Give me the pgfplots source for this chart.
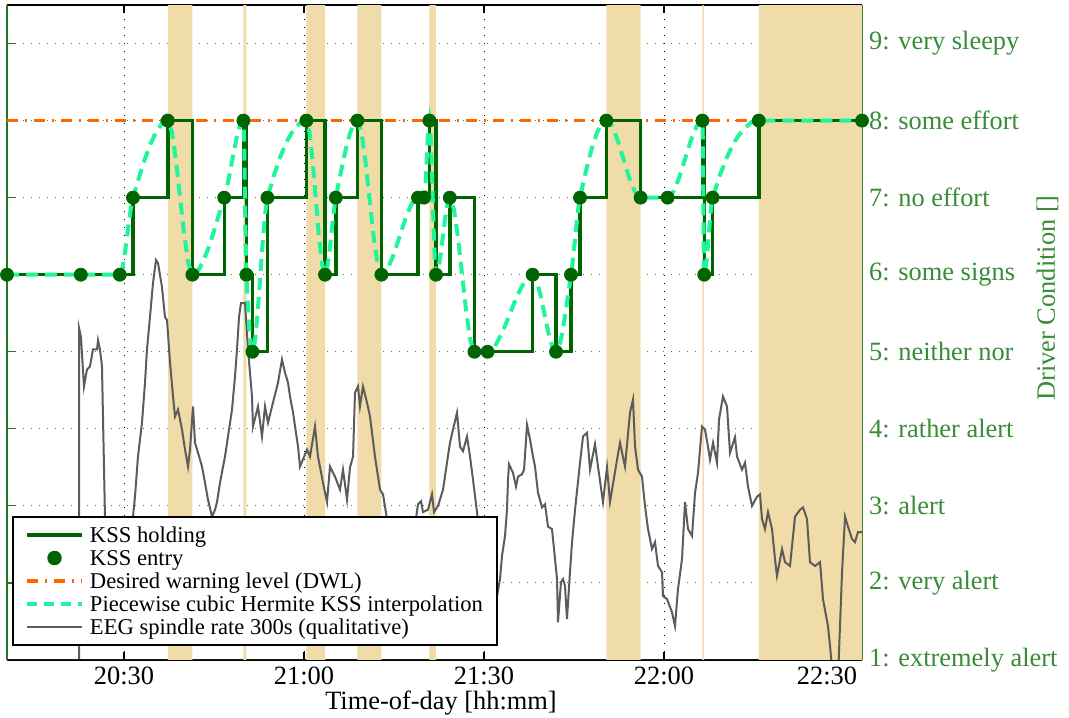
\documentclass[border=0pt]{standalone}
\usepackage{fontspec}
\setmainfont{Liberation Serif}
\usepackage{pgfplots}
\usepackage{pgfplotstable}
\pgfplotsset{compat=1.18}

\definecolor{kss}{RGB}{0,100,0}
\definecolor{herm}{RGB}{32,245,155}
\definecolor{dwl}{RGB}{255,102,0}
\definecolor{eeg}{RGB}{92,92,92}
\definecolor{shade}{RGB}{240,220,168}
\definecolor{axgreen}{RGB}{30,120,30}
\definecolor{lblgreen}{RGB}{56,140,56}
\definecolor{gridgreen}{RGB}{60,140,60}

% time in minutes after 20:00, KSS level
\pgfplotstableread{
t   k
10.5  6
22.8  6
29.3  6
31.5  7
37.3  8
41.4  6
46.7  7
49.9  8
50.4  6
51.4  5
53.9  7
60.4  8
63.5  6
65.3  7
68.9  8
72.9  6
79.0  7
80.0  7
80.9  8
82.0  6
84.3  7
88.4  5
90.6  5
98.1  6
102.0 5
104.5 6
106.0 7
110.4 8
116.1 7
120.6 7
126.4 8
126.7 6
128.1 7
135.8 8
153.0 8
}\kssdata

% periods at or above the warning level
\pgfplotstableread{
t   s
10.5  0
37.3  9.5
41.4  0
49.9  9.5
50.4  0
60.4  9.5
63.5  0
68.9  9.5
72.9  0
80.9  9.5
82.0  0
110.4 9.5
116.1 0
126.4 9.5
126.7 0
135.8 9.5
153.0 9.5
}\warnspans

% piecewise cubic Hermite curve through the KSS entries
\pgfplotstableread{
t   h
10.5 6
22.8 6
29.3 6
29.667 6.060
30.033 6.216
30.4 6.426
30.767 6.653
31.133 6.858
31.5 7
32.467 7.254
33.433 7.489
34.4 7.694
35.367 7.856
36.333 7.962
37.3 8
37.983 7.852
38.667 7.481
39.35 7.0
40.033 6.519
40.717 6.148
41.4 6
42.283 6.045
43.167 6.165
44.05 6.341
44.933 6.552
45.817 6.779
46.7 7
47.233 7.163
47.767 7.373
48.3 7.596
48.833 7.798
49.367 7.944
49.9 8
49.983 7.872
50.067 7.545
50.15 7.107
50.233 6.646
50.317 6.247
50.4 6
50.567 5.728
50.733 5.487
50.9 5.286
51.067 5.132
51.233 5.035
51.4 5
51.817 5.131
52.233 5.466
52.65 5.910
53.067 6.375
53.483 6.769
53.9 7
54.983 7.290
56.067 7.536
57.15 7.733
58.233 7.879
59.317 7.969
60.4 8
60.917 7.852
61.433 7.481
61.95 7.0
62.467 6.519
62.983 6.148
63.5 6
63.8 6.058
64.1 6.208
64.4 6.414
64.7 6.638
65.0 6.846
65.3 7
65.9 7.234
66.5 7.464
67.1 7.673
67.7 7.843
68.3 7.958
68.9 8
69.567 7.852
70.233 7.481
70.9 7.0
71.567 6.519
72.233 6.148
72.9 6
73.917 6.074
74.933 6.259
75.95 6.5
76.967 6.741
77.983 6.926
79.0 7
80.0 7
80.15 7.074
80.3 7.259
80.45 7.5
80.6 7.741
80.75 7.926
80.9 8
81.083 7.852
81.267 7.481
81.45 7.0
81.633 6.519
81.817 6.148
82.0 6
82.383 6.074
82.767 6.259
83.15 6.5
83.533 6.741
83.917 6.926
84.3 7
84.983 6.852
85.667 6.481
86.35 6.0
87.033 5.519
87.717 5.148
88.4 5
90.6 5
91.85 5.074
93.1 5.259
94.35 5.5
95.6 5.741
96.85 5.926
98.1 6
98.75 5.926
99.4 5.741
100.05 5.5
100.7 5.259
101.35 5.074
102.0 5
102.417 5.045
102.833 5.165
103.25 5.340
103.667 5.552
104.083 5.778
104.5 6
104.75 6.150
105.0 6.332
105.25 6.527
105.5 6.716
105.75 6.880
106.0 7
106.733 7.261
107.467 7.499
108.2 7.702
108.933 7.861
109.667 7.963
110.4 8
111.35 7.926
112.3 7.741
113.25 7.5
114.2 7.259
115.15 7.074
116.1 7
120.6 7
121.567 7.074
122.533 7.259
123.5 7.5
124.467 7.741
125.433 7.926
126.4 8
126.45 7.852
126.5 7.481
126.55 7.0
126.6 6.519
126.65 6.148
126.7 6
126.933 6.066
127.167 6.232
127.4 6.454
127.633 6.686
127.867 6.883
128.1 7
129.383 7.308
130.667 7.558
131.95 7.752
133.233 7.890
134.517 7.973
135.8 8
153.0 8
}\hermdata

% EEG spindle rate (300 s window), drawn on the KSS scale
\pgfplotstableread{
t   e
22.5 1.01
22.5 5.31
22.83 5.19
23.33 4.55
23.83 4.77
24.33 4.81
24.83 5.03
25.5 5.03
25.67 5.15
26.0 5.03
26.33 4.81
26.83 2.86
28.5 1.55
30.17 1.66
31.5 2.86
31.83 3.12
32.33 3.64
33.0 4.08
33.5 4.60
33.83 5.03
34.33 5.45
34.83 5.89
35.33 6.19
35.67 6.15
36.33 5.84
36.83 5.45
37.17 5.41
37.67 4.86
38.17 4.42
38.5 4.16
39.0 4.25
39.67 3.99
40.17 3.73
40.67 3.51
41.0 3.73
41.5 4.29
41.83 3.82
42.33 3.69
43.0 3.51
43.5 3.30
44.0 3.08
44.67 2.86
45.17 2.95
45.5 3.05
46.0 3.30
46.83 3.64
47.33 3.90
48.0 4.25
48.5 4.68
48.83 5.03
49.17 5.45
49.5 5.63
50.17 5.63
50.67 5.03
51.33 4.42
51.5 4.03
52.33 4.29
53.0 3.90
53.5 4.29
54.0 4.08
54.83 4.34
55.67 4.60
56.33 4.90
56.83 4.73
57.33 4.60
57.67 4.42
58.17 4.21
59.0 3.77
59.33 3.51
60.5 3.73
61.0 3.64
61.83 4.03
62.33 3.64
63.17 3.30
63.83 3.05
64.33 3.51
65.17 3.38
66.0 3.21
66.5 3.47
67.17 3.08
67.67 3.50
68.17 3.64
68.5 4.47
69.0 4.55
69.33 4.29
69.83 4.55
70.5 4.34
71.0 4.16
71.83 3.64
72.67 3.21
73.17 3.15
75.17 2.18
77.67 2.31
79.0 3.02
79.5 3.06
79.83 2.92
80.67 2.95
81.33 3.15
81.67 2.92
82.33 3.00
83.17 3.21
83.83 3.56
84.33 3.82
84.83 3.99
85.5 4.21
86.0 3.77
86.5 3.71
87.17 3.90
87.67 3.64
88.17 3.34
88.83 2.92
90.17 2.05
92.17 1.83
92.67 2.05
93.0 2.35
93.5 2.61
93.83 2.95
94.0 3.34
94.17 3.54
94.83 3.43
95.33 3.25
95.67 3.38
96.33 3.41
96.67 3.47
97.17 4.05
97.67 3.86
98.17 3.64
98.5 3.51
99.0 3.17
99.67 2.98
100.17 3.02
100.67 2.73
101.33 2.70
101.67 2.44
102.17 2.05
102.33 1.49
102.83 2.01
103.17 2.05
103.5 1.96
103.83 1.53
104.33 2.14
104.67 2.53
105.17 2.95
106.0 3.56
106.5 3.90
107.17 3.95
107.67 3.47
108.5 3.80
109.0 3.51
109.83 3.05
110.5 3.50
111.0 3.05
112.17 3.60
112.67 3.82
113.5 3.51
114.33 4.21
114.83 4.38
115.17 3.77
115.67 3.47
116.33 3.38
116.83 3.00
117.33 2.70
118.0 2.44
118.5 2.53
119.0 2.22
119.67 2.14
119.83 1.83
120.5 1.79
121.33 1.62
121.83 1.44
122.33 1.92
123.0 2.31
123.5 3.05
124.0 2.70
124.67 2.61
125.17 3.17
125.67 3.43
126.33 4.03
126.83 3.99
127.33 3.77
127.67 3.60
128.17 3.82
128.83 3.56
129.17 4.12
129.83 4.42
130.5 4.29
131.0 3.69
131.83 3.89
132.17 3.64
133.0 3.47
133.5 3.56
134.0 3.25
134.67 3.00
135.5 3.12
136.0 3.15
136.33 2.83
136.83 2.70
137.33 2.92
138.0 2.70
138.5 2.31
138.83 2.09
139.67 2.44
140.17 2.27
141.0 2.22
141.83 2.86
142.67 2.95
143.17 2.98
143.83 2.83
144.33 2.27
145.17 2.22
146.0 2.27
146.5 1.79
147.33 1.44
147.67 1.18
148.17 0.76
149.0 0.76
149.33 1.44
149.67 2.14
150.17 2.86
150.67 2.73
151.33 2.57
151.83 2.53
152.33 2.66
153.0 2.66
}\eegdata

\begin{document}
\begin{tikzpicture}
\useasboundingbox (0,0) rectangle (534.5pt,358.5pt);
\begin{axis}[
  at={(3.5pt,28.5pt)}, anchor=south west,
  scale only axis, width=427.5pt, height=327.5pt,
  xmin=10.5, xmax=153, ymin=1, ymax=9.5,
  separate axis lines,
  x axis line style={black, line width=1pt},
  y axis line style={axgreen, line width=0.8pt},
  tick align=inside, major tick length=4pt,
  xtick style={black, line width=0.6pt},
  ytick style={axgreen, line width=0.6pt},
  xtick={30,60,90,120,150},
  xticklabels={20:30,21:00,21:30,22:00,{\makebox[0pt][r]{22:30\hspace{-6.5pt}}}},
  ytick={1,2,3,4,5,6,7,8,9},
  yticklabels={1: extremely alert,2: very alert,3: alert,4: rather alert,5: neither nor,6: some signs,7: no effort,8: some effort,9: very sleepy},
  yticklabel pos=right,
  tick label style={font=\fontsize{13.2}{15}\selectfont},
  yticklabel style={text=lblgreen},
  xmajorgrids, ymajorgrids,
  major x grid style={black, line width=0.5pt, dash pattern=on 0.6pt off 3.4pt},
  major y grid style={gridgreen, line width=0.5pt, dash pattern=on 0.6pt off 3.4pt},
  xlabel={Time-of-day [hh:mm]},
  xlabel style={font=\fontsize{13.2}{15}\selectfont, at={(rel axis cs:0.5076,-0.0763)}, anchor=base},
  ylabel={Driver Condition []},
  ylabel style={font=\fontsize{13.2}{15}\selectfont, text=lblgreen, at={(rel axis cs:1.2257,0.5527)}, anchor=base, rotate=0},
  legend image code/.code={\draw[#1] (0pt,0pt) -- (27.5pt,0pt); \path (29.5pt,0pt);},
  legend cell align=left,
  legend style={at={(rel axis cs:0.00585,0.0214)}, anchor=south west,
    draw=black, line width=1pt, fill=white,
    font=\fontsize{11.3}{13}\selectfont,
    inner xsep=6pt, inner ysep=3.25pt,
    nodes={inner xsep=1pt, inner ysep=0pt, text height=9.45pt, text depth=2.05pt},
    cells={anchor=west}},
]
% shaded spans
\addplot[const plot, fill=shade, draw=none, forget plot] table[x=t,y=s]{\warnspans} \closedcycle;
% EEG trace
\addplot[eeg, line width=1pt, forget plot] table[x=t,y=e]{\eegdata};
% desired warning level
\addplot[dwl, line width=1.7pt, dash pattern=on 5.5pt off 3.5pt on 1pt off 3.5pt, forget plot] coordinates {(10.5,8) (153,8)};
% KSS held until the next entry
\addplot[kss, line width=1.7pt, const plot, forget plot] table[x=t,y=k]{\kssdata};
% Hermite interpolation
\addplot[herm, line width=2pt, dash pattern=on 6pt off 3.5pt, forget plot] table[x=t,y=h]{\hermdata};
% KSS entries
\addplot[only marks, mark=*, mark size=3.25pt, kss, mark options={fill=kss, draw=kss}, forget plot] table[x=t,y=k]{\kssdata};

\addlegendimage{kss, line width=1.7pt}
\addlegendentry{KSS holding}
\addlegendimage{kss, legend image code/.code={\path (0pt,0pt); \fill[kss] (13.75pt,0pt) circle (3.1pt); \path (29.5pt,0pt);}}
\addlegendentry{KSS entry}
\addlegendimage{dwl, line width=1.7pt, dash pattern=on 5.5pt off 3.5pt on 1pt off 3.5pt}
\addlegendentry{Desired warning level (DWL)}
\addlegendimage{herm, line width=2pt, dash pattern=on 5pt off 3.5pt}
\addlegendentry{Piecewise cubic Hermite KSS interpolation}
\addlegendimage{eeg, line width=1pt}
\addlegendentry{EEG spindle rate 300s (qualitative)}
\end{axis}
\end{tikzpicture}
\end{document}
